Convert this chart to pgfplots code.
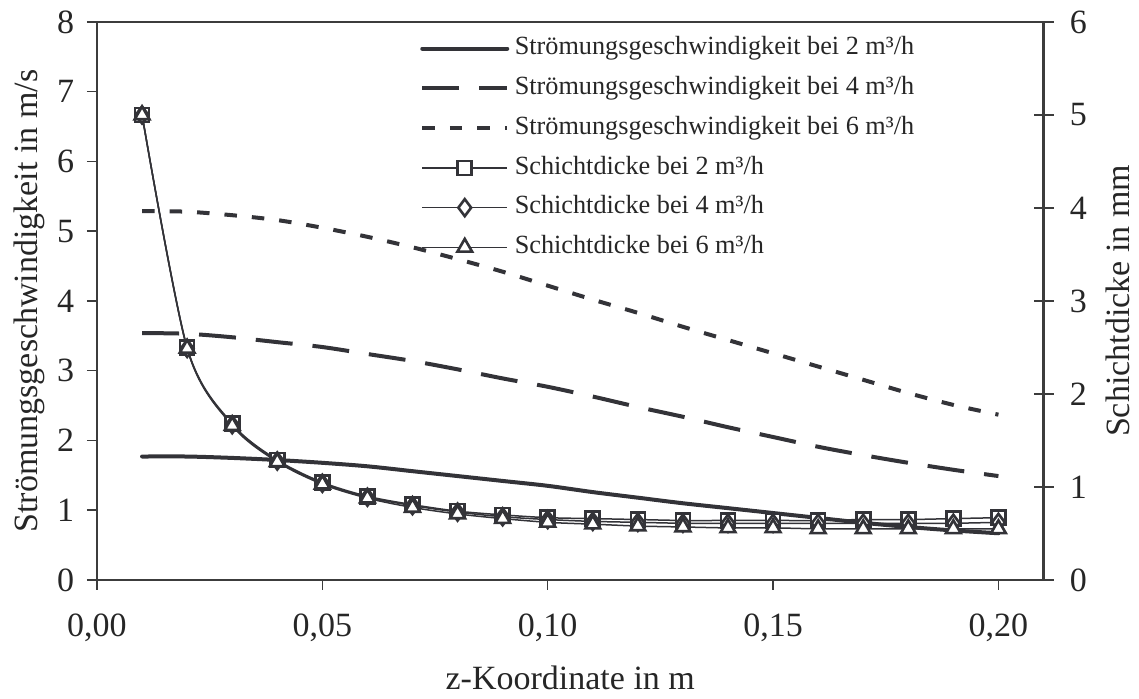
\documentclass[border=0pt]{standalone}
\usepackage{fontspec}
\setmainfont{Liberation Serif}
\usepackage{pgfplots}
\usepackage{pgfplotstable}
\pgfplotsset{compat=1.18}
\definecolor{axc}{HTML}{3C3C3C}
\definecolor{lnc}{HTML}{333338}
\definecolor{txc}{HTML}{262626}

\pgfplotstableread{
z v2 v4 v6
0.01 1.77 3.54 5.29
0.02 1.77 3.53 5.28
0.03 1.75 3.48 5.23
0.04 1.72 3.41 5.16
0.05 1.68 3.34 5.05
0.06 1.63 3.24 4.92
0.07 1.56 3.14 4.77
0.08 1.49 3.02 4.60
0.09 1.42 2.89 4.42
0.10 1.35 2.77 4.22
0.11 1.26 2.63 4.02
0.12 1.18 2.48 3.83
0.13 1.10 2.34 3.63
0.14 1.03 2.19 3.44
0.15 0.96 2.05 3.25
0.16 0.89 1.91 3.06
0.17 0.82 1.79 2.87
0.18 0.76 1.68 2.68
0.19 0.71 1.58 2.51
0.20 0.67 1.49 2.37
}\velo

\pgfplotstableread{
z s2 s4 s6
0.01 5.00 5.00 5.00
0.02 2.50 2.49 2.49
0.03 1.68 1.67 1.66
0.04 1.29 1.28 1.27
0.05 1.05 1.04 1.03
0.06 0.90 0.89 0.88
0.07 0.81 0.80 0.78
0.08 0.74 0.73 0.71
0.09 0.70 0.68 0.66
0.10 0.67 0.65 0.62
0.11 0.66 0.63 0.60
0.12 0.65 0.62 0.58
0.13 0.64 0.61 0.57
0.14 0.64 0.61 0.56
0.15 0.64 0.61 0.56
0.16 0.64 0.61 0.55
0.17 0.65 0.61 0.55
0.18 0.65 0.61 0.55
0.19 0.66 0.61 0.55
0.20 0.67 0.62 0.55
}\schicht

\tikzset{
  vsolid/.style={lnc, line width=1.6pt, line cap=round},
  vdash/.style={lnc, line width=1.6pt, dash pattern=on 14.8pt off 8pt},
  vdot/.style={lnc, line width=1.6pt, dash pattern=on 5pt off 6pt},
}

\pgfplotsset{
  base/.style={
    scale only axis, width=378.6pt, height=223.2pt,
    xmin=0, xmax=0.21,
    every tick label/.append style={font=\fontsize{13.6}{16}\selectfont, text=txc},
    label style={font=\fontsize{13.6}{16}\selectfont, text=txc},
    /pgf/number format/assume math mode=true,
    axis line style={axc, line width=0.95pt},
    every tick/.style={axc, line width=0.6pt},
  },
  lineleg/.style={legend image code/.code={
      \draw[##1] (0pt,0pt) -- (34pt,0pt);}},
  markleg/.style={legend image code/.code={
      \draw[##1, mark=none] (0pt,0pt) -- (34pt,0pt);
      \draw[##1, only marks] plot coordinates {(17pt,0pt)};}},
}

\begin{document}
\begin{tikzpicture}
\begin{axis}[base, name=ax1,
  ymin=0, ymax=8, ytick={0,1,...,8},
  xtick={0,0.05,0.1,0.15,0.2},
  xticklabel style={/pgf/number format/fixed, /pgf/number format/fixed zerofill,
    /pgf/number format/precision=2, /pgf/number format/use comma, yshift=-6.2pt},
  xtick pos=bottom, ytick pos=left,
  tick align=outside, major tick length=4pt,
  yticklabel style={xshift=-1.6pt},
  xlabel={z-Koordinate in m},
  ylabel={Strömungsgeschwindigkeit in m/s},
  xlabel style={at={(axis description cs:0.5,-0.176)}, anchor=center},
  ylabel style={at={(axis description cs:-0.071,0.5)}, anchor=center},
]
\addplot[vsolid, smooth] table[x=z, y=v2] {\velo};
\addplot[vdash, smooth] table[x=z, y=v4] {\velo};
\addplot[vdot, smooth] table[x=z, y=v6] {\velo};
\end{axis}

\begin{axis}[base,
  ymin=0, ymax=6, ytick={0,1,...,6},
  axis x line=none, axis y line*=right,
  tick align=center, major tick length=8pt,
  yticklabel style={xshift=3pt},
  ylabel={Schichtdicke in mm},
  ylabel style={at={(axis description cs:1.079,0.5)}, anchor=center},
  legend style={font=\fontsize{10.5}{12}\selectfont, text=txc, draw=none, fill=none,
    at={(axis description cs:0.341,0.980)}, anchor=north west, inner sep=0pt,
    row sep=3.9pt, column sep=1.2pt, legend cell align=left,
    nodes={inner sep=1pt, text height=0.75em, text depth=0.25em}},
]
\addlegendimage{vsolid, lineleg}
\addlegendentry{Strömungsgeschwindigkeit bei 2 m³/h}
\addlegendimage{vdash, lineleg}
\addlegendentry{Strömungsgeschwindigkeit bei 4 m³/h}
\addlegendimage{vdot, lineleg}
\addlegendentry{Strömungsgeschwindigkeit bei 6 m³/h}
\addplot[markleg, lnc, line width=0.6pt, smooth, mark=square*, mark size=2.8pt,
  mark options={fill=white, draw=lnc, line width=1.05pt, solid}] table[x=z, y=s2] {\schicht};
\addlegendentry{Schichtdicke bei 2 m³/h}
\addplot[markleg, lnc, line width=0.6pt, smooth, mark=diamond*, mark size=3.4pt,
  mark options={fill=white, draw=lnc, line width=1.05pt, solid}] table[x=z, y=s4] {\schicht};
\addlegendentry{Schichtdicke bei 4 m³/h}
\addplot[markleg, lnc, line width=0.6pt, smooth, mark=triangle*, mark size=3.4pt,
  mark options={fill=white, draw=lnc, line width=1.05pt, solid}] table[x=z, y=s6] {\schicht};
\addlegendentry{Schichtdicke bei 6 m³/h}
\end{axis}
\path ([shift={(-38.8pt,-46.8pt)}]ax1.south west) rectangle ([shift={(38.2pt,8.8pt)}]ax1.north east);
\end{tikzpicture}
\end{document}
